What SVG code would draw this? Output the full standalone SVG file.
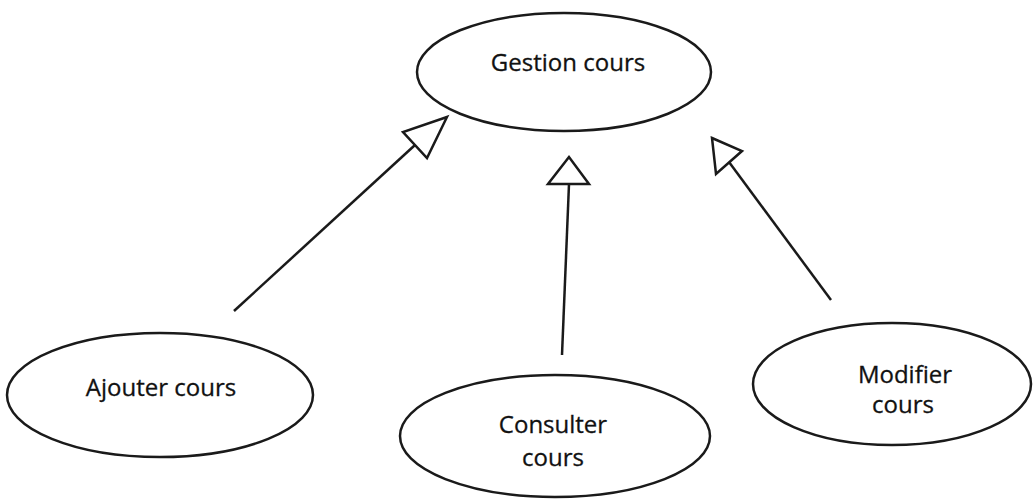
<svg xmlns="http://www.w3.org/2000/svg" width="1036" height="500" viewBox="0 0 1036 500">
<style>
.uc{fill:#fff;stroke:#1a1a1a;stroke-width:2.5}
.lbl{font-family:"Open Sans","Liberation Sans",sans-serif;font-size:24px;fill:#111;stroke:#111;stroke-width:0.3;text-anchor:middle}
.ln{stroke:#1a1a1a;stroke-width:2.5;fill:none}
.head{fill:#fff;stroke:#1a1a1a;stroke-width:2.5;stroke-linejoin:miter}
</style>
<rect width="1036" height="500" fill="#fff"/>
<g id="connectors">
<line class="ln" x1="234" y1="311" x2="415" y2="145"/>
<polygon class="head" points="447,117 403,132 427,158"/>
<line class="ln" x1="562" y1="355" x2="569" y2="184"/>
<polygon class="head" points="569,157 548,184 589,184"/>
<line class="ln" x1="831" y1="300" x2="729" y2="162"/>
<polygon class="head" points="712,138 742,151 716,174"/>
</g>
<g id="gestion">
<ellipse class="uc" cx="564" cy="72" rx="147" ry="59"/>
<text class="lbl" x="568" y="71">Gestion cours</text>
</g>
<g id="ajouter">
<ellipse class="uc" cx="160" cy="395" rx="153" ry="62"/>
<text class="lbl" x="161" y="396">Ajouter cours</text>
</g>
<g id="consulter">
<ellipse class="uc" cx="555" cy="436" rx="155" ry="61"/>
<text class="lbl" x="553" y="433">Consulter</text>
<text class="lbl" x="553" y="466">cours</text>
</g>
<g id="modifier">
<ellipse class="uc" cx="892" cy="384" rx="139" ry="61"/>
<text class="lbl" x="905" y="383">Modifier</text>
<text class="lbl" x="903" y="413">cours</text>
</g>
</svg>
